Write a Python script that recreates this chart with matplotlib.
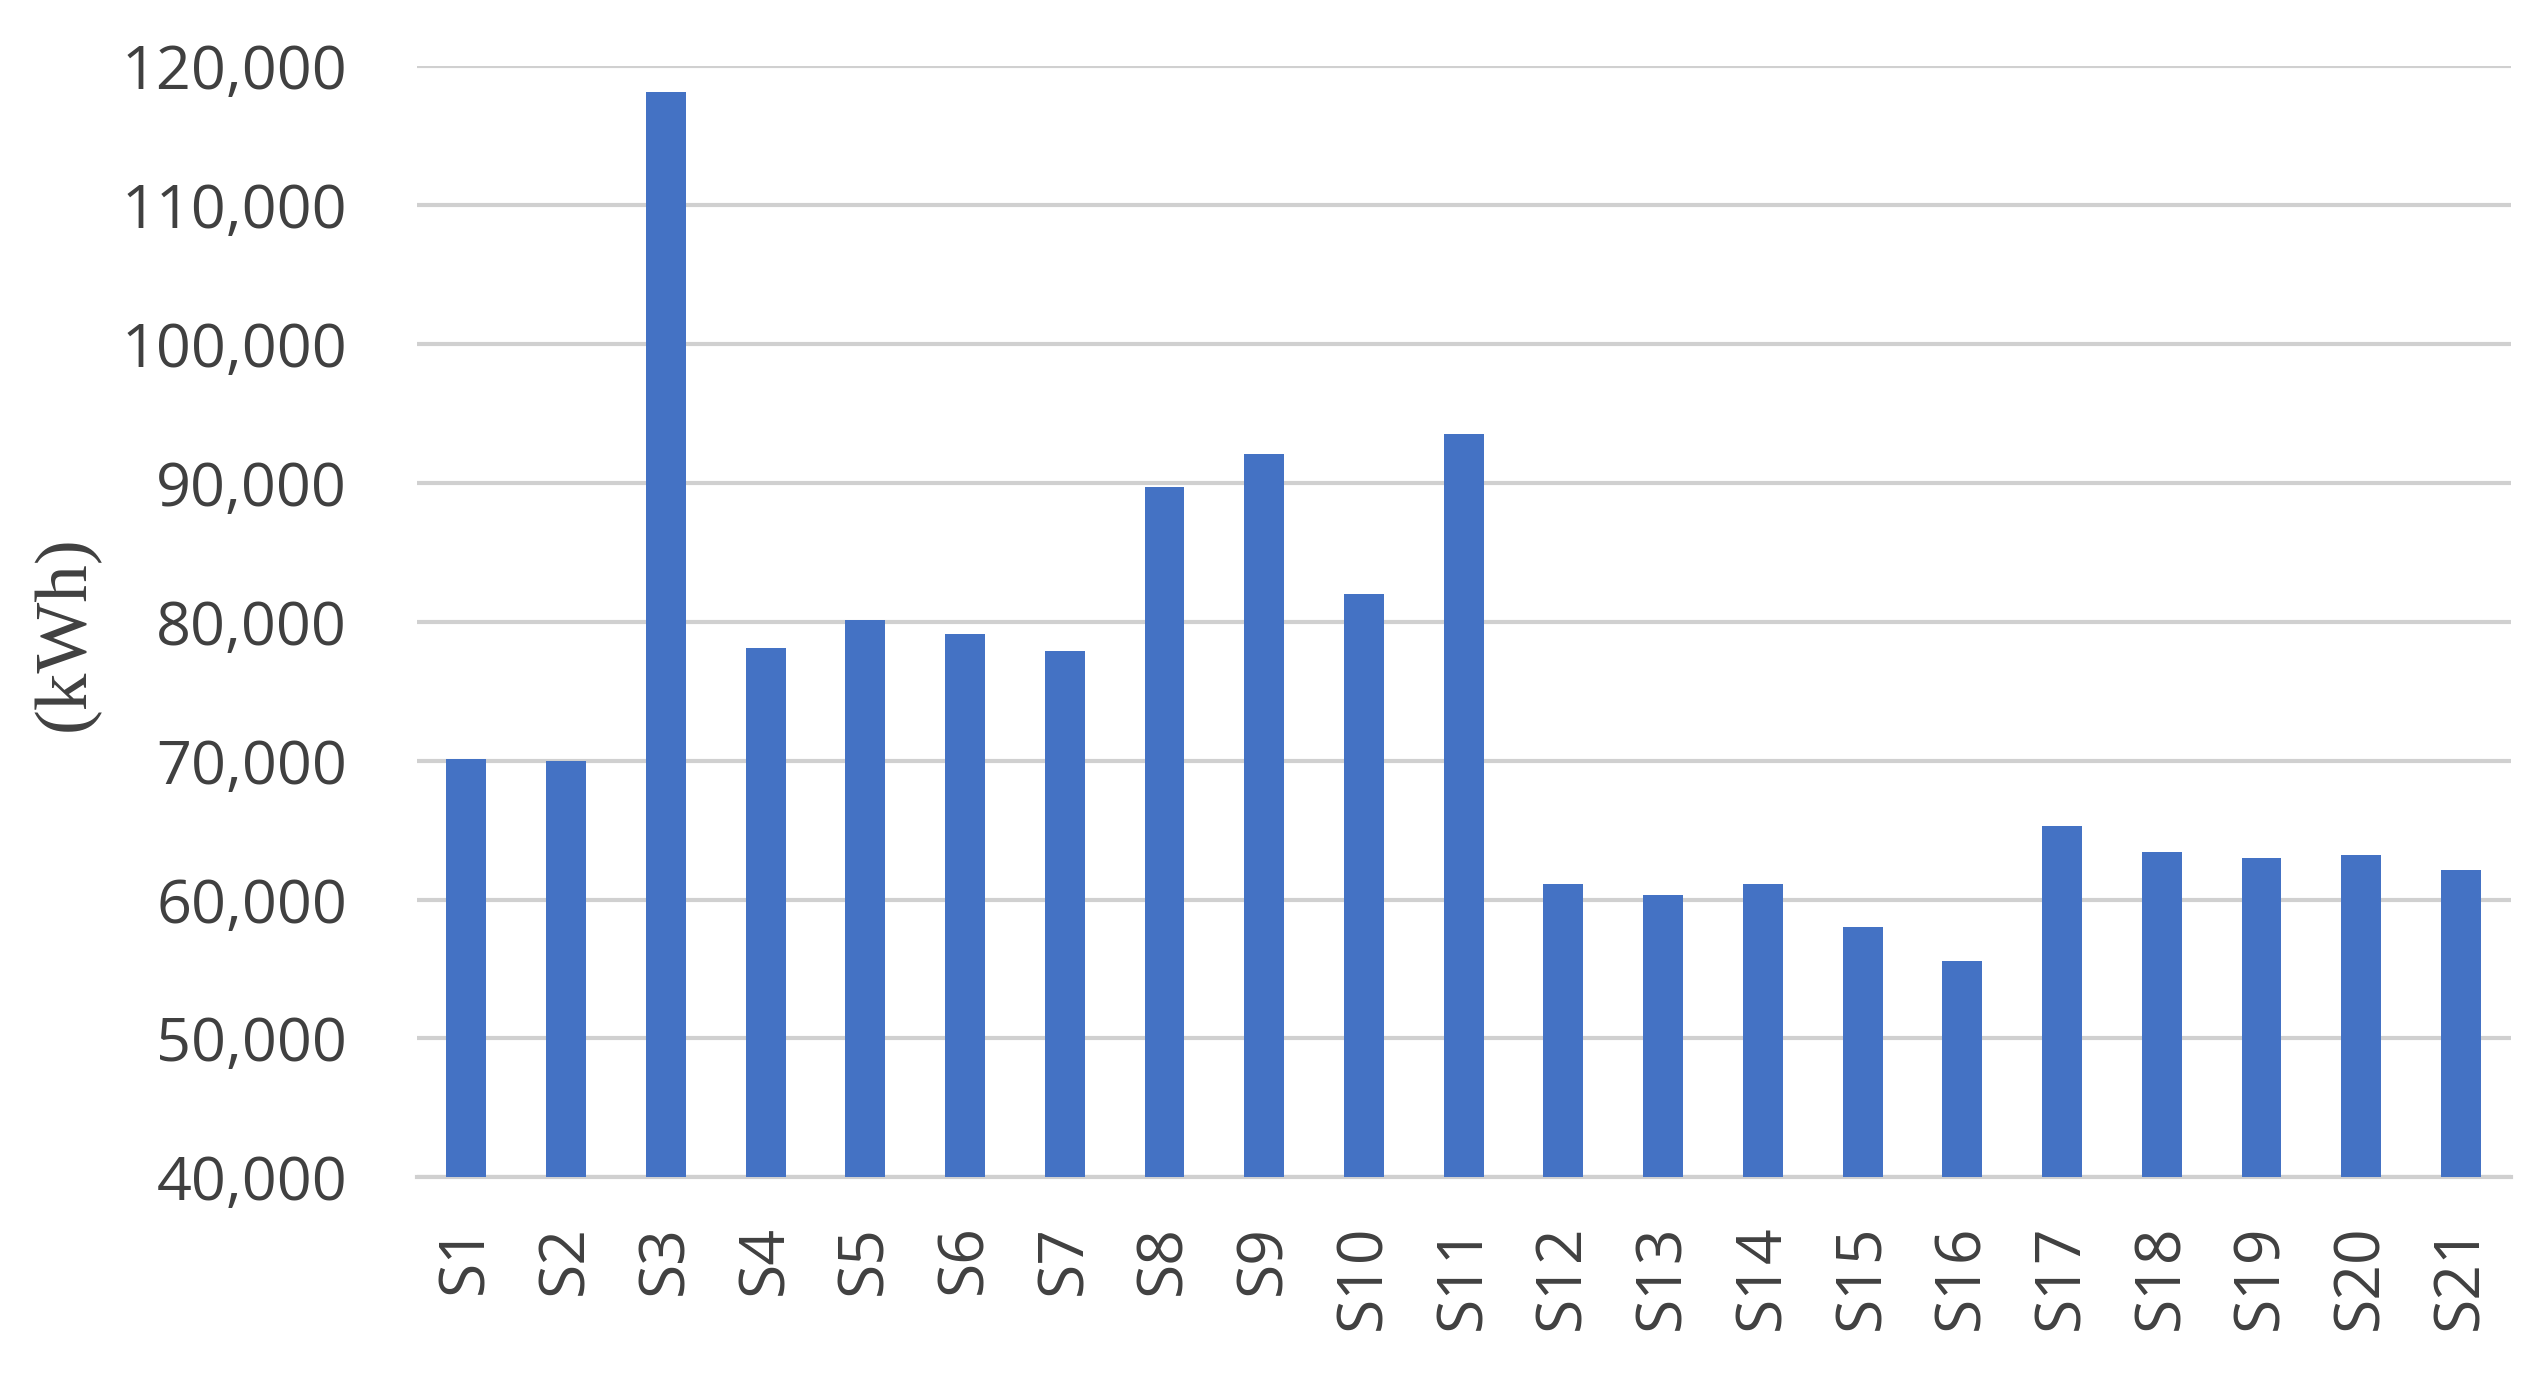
import matplotlib
matplotlib.use("Agg")
import matplotlib.pyplot as plt
from matplotlib.ticker import StrMethodFormatter, MultipleLocator

# energy per site (kWh)
sites = ["S" + str(i) for i in range(1, 22)]
energy = [70100, 70000, 118100, 78100, 80100, 79100, 77900, 89700, 92100, 82000,
          93500, 61100, 60300, 61100, 58000, 55600, 65300, 63400, 63000, 63200, 62100]

bar_color = "#4472C4"
grid_color = "#D0D0D0"
text_color = "#404040"

fig = plt.figure(figsize=(25.4, 13.77), dpi=100)
ax = fig.add_axes([0.164, 0.145, 0.8245, 0.807])

ax.bar(range(len(sites)), energy, width=0.4, color=bar_color, zorder=3)

ax.set_xlim(-0.5, len(sites) - 0.5)
ax.set_ylim(40000, 120000)
ax.yaxis.set_major_locator(MultipleLocator(10000))
ax.yaxis.set_major_formatter(StrMethodFormatter("{x:,.0f}"))

ax.set_xticks(range(len(sites)))
ax.set_xticklabels(sites, rotation=90)

ax.grid(axis="y", color=grid_color, linewidth=3, zorder=0)
ax.grid(axis="x", visible=False)
for side in ["top", "right", "left"]:
    ax.spines[side].set_visible(False)
ax.spines["bottom"].set_color(grid_color)
ax.spines["bottom"].set_linewidth(3)

ax.tick_params(axis="y", length=0, pad=50, labelsize=44, labelcolor=text_color)
ax.tick_params(axis="x", length=0, pad=34, labelsize=45, labelcolor=text_color)
for lab in ax.get_xticklabels() + ax.get_yticklabels():
    lab.set_fontfamily("Open Sans")

fig.text(0.026, 0.54, "(kWh)", rotation=90, ha="center", va="center",
         fontsize=54, family="Liberation Serif", color="#404040")

fig.savefig("out.png", dpi=100, facecolor="white")
